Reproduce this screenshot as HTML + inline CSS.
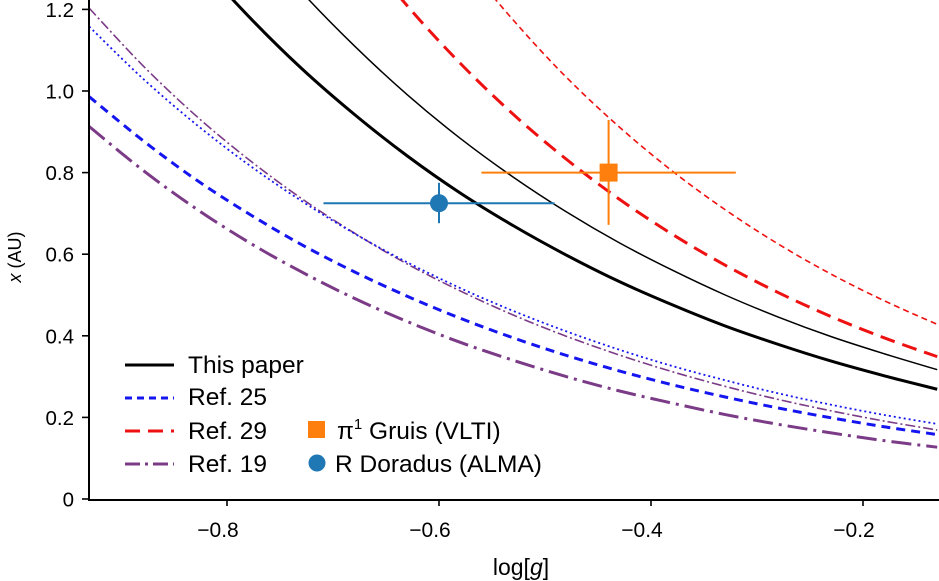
<!DOCTYPE html>
<html><head><meta charset="utf-8"><style>
html,body{margin:0;padding:0;background:#fff;}
svg{display:block;font-family:"Liberation Sans",Arial,sans-serif;}
</style></head><body>
<svg id="chart" width="939" height="581" viewBox="0 0 939 581">
<defs><clipPath id="plotclip"><rect x="89" y="0" width="850" height="500"/></clipPath></defs>
<g id="curves" clip-path="url(#plotclip)"></g>
<g id="points"></g>
<g id="axes"></g>
<g id="legend"></g>
</svg>
<script>
const logg = [-0.93,-0.88,-0.83,-0.78,-0.73,-0.68,-0.63,-0.58,-0.53,-0.48,-0.43,-0.38,-0.33,-0.28,-0.23,-0.18,-0.13];
const thisPaperA = [1.667,1.487,1.327,1.184,1.056,0.943,0.841,0.750,0.670,0.598,0.533,0.476,0.424,0.379,0.338,0.302,0.269];
const thisPaperB = [1.964,1.752,1.563,1.395,1.244,1.111,0.991,0.884,0.789,0.704,0.628,0.561,0.500,0.446,0.398,0.356,0.317];
const ref29A = [2.549,2.251,1.988,1.756,1.550,1.369,1.209,1.068,0.943,0.833,0.735,0.649,0.573,0.506,0.447,0.395,0.349];
const ref29B = [3.214,2.833,2.498,2.202,1.942,1.712,1.510,1.331,1.174,1.034,0.912,0.804,0.709,0.625,0.551,0.486,0.428];
const ref25A = [0.986,0.880,0.784,0.700,0.624,0.557,0.497,0.443,0.395,0.352,0.314,0.280,0.250,0.223,0.199,0.177,0.158];
const ref25B = [1.158,1.032,0.920,0.820,0.731,0.651,0.580,0.517,0.461,0.411,0.366,0.326,0.291,0.259,0.231,0.206,0.184];
const ref19B = [1.203,1.064,0.941,0.833,0.737,0.652,0.576,0.510,0.451,0.399,0.353,0.312,0.276,0.244,0.216,0.191,0.169];
const ref19A = [0.913,0.807,0.713,0.630,0.557,0.492,0.435,0.384,0.340,0.300,0.265,0.235,0.207,0.183,0.162,0.143,0.127];
const xTicks = [-0.8,-0.6,-0.4,-0.2];
const xTickLabels = ["\u22120.8","\u22120.6","\u22120.4","\u22120.2"];
const yTicks = [0,0.2,0.4,0.6,0.8,1.0,1.2];
const yTickLabels = ["0","0.2","0.4","0.6","0.8","1.0","1.2"];
const gruis = {g:-0.44, x:0.80, gLo:-0.56, gHi:-0.32, xLo:0.672, xHi:0.929};
const rdor = {g:-0.60, x:0.725, gLo:-0.709, gHi:-0.491, xLo:0.676, xHi:0.775};

const NS="http://www.w3.org/2000/svg";
const X0=89, X1=939, Y0=499;
function sx(v){return 439+(v+0.6)*1060;}
function sy(v){return Y0-v*408;}
function mk(tag,attrs,parent){const e=document.createElementNS(NS,tag);for(const k in attrs)e.setAttribute(k,attrs[k]);parent.appendChild(e);return e;}
function pathFor(xs,ys){
  const p=xs.map((x,i)=>[sx(x),sy(ys[i])]);
  let d="M"+p[0][0].toFixed(2)+","+p[0][1].toFixed(2);
  for(let i=0;i<p.length-1;i++){
    const a=p[Math.max(i-1,0)],b=p[i],c=p[i+1],e=p[Math.min(i+2,p.length-1)];
    const c1=[b[0]+(c[0]-a[0])/6,b[1]+(c[1]-a[1])/6],c2=[c[0]-(e[0]-b[0])/6,c[1]-(e[1]-b[1])/6];
    d+=" C"+c1.map(v=>v.toFixed(2))+" "+c2.map(v=>v.toFixed(2))+" "+c.map(v=>v.toFixed(2));
  }
  return d;
}
const curves=document.getElementById('curves');
const series=[
 [ref19A,'#7b3b87',3,'20,6,3,6','ref19-thick-line'],
 [ref19B,'#7b3b87',1.6,'10,3,2,3','ref19-thin-line'],
 [ref25A,'#1515f0',3,'9,6','ref25-thick-line'],
 [ref25B,'#1515f0',1.8,'2,3','ref25-thin-line'],
 [ref29A,'#ee1111',3,'15,8','ref29-thick-line'],
 [ref29B,'#ee1111',1.6,'6,4','ref29-thin-line'],
 [thisPaperA,'#000',3,'','this-paper-thick-line'],
 [thisPaperB,'#000',1.5,'','this-paper-thin-line']
];
series.forEach(s=>{
  const el=mk('path',{d:pathFor(logg,s[0]),fill:'none',stroke:s[1],'stroke-width':s[2],'stroke-dasharray':s[3]},curves);
  
  
});
const pts=document.getElementById('points');
function errPoint(p,color,square,name){
  const g=mk('g',{},pts);
  
  
  mk('line',{x1:sx(p.gLo),x2:sx(p.gHi),y1:sy(p.x),y2:sy(p.x),stroke:color,'stroke-width':2},g);
  mk('line',{x1:sx(p.g),x2:sx(p.g),y1:sy(p.xLo),y2:sy(p.xHi),stroke:color,'stroke-width':2},g);
  if(square) mk('rect',{x:sx(p.g)-9,y:sy(p.x)-9,width:18,height:18,fill:color},g);
  else mk('circle',{cx:sx(p.g),cy:sy(p.x),r:9,fill:color},g);
}
errPoint(rdor,'#1f77b4',false,'r-doradus-point');
errPoint(gruis,'#ff7f0e',true,'pi1-gruis-point');

const ax=document.getElementById('axes');
mk('line',{x1:X0,x2:X0,y1:0,y2:Y0+1,stroke:'#000','stroke-width':2},ax);
mk('line',{x1:X0-1,x2:X1,y1:Y0+1,y2:Y0+1,stroke:'#000','stroke-width':2},ax);
xTicks.forEach((t,i)=>{
  mk('line',{x1:sx(t),x2:sx(t),y1:Y0,y2:Y0+7,stroke:'#000','stroke-width':1.6},ax);
  const tx=mk('text',{x:sx(t)-9,y:537,'text-anchor':'middle','font-size':21},ax);
  tx.textContent=xTickLabels[i];
  
  
});
yTicks.forEach((t,i)=>{
  mk('line',{x1:X0-7,x2:X0,y1:sy(t),y2:sy(t),stroke:'#000','stroke-width':1.6},ax);
  const tx=mk('text',{x:74,y:sy(t)+7.5,'text-anchor':'end','font-size':20.5},ax);
  tx.textContent=yTickLabels[i];
  
  
});
</script>
<script>
(function(){
const NS="http://www.w3.org/2000/svg";
const ax=document.getElementById('axes');
const xl=document.createElementNS(NS,'text');
xl.setAttribute('x','521');xl.setAttribute('y','575');xl.setAttribute('text-anchor','middle');xl.setAttribute('font-size','23');
xl.innerHTML='log[<tspan font-style="italic">g</tspan>]';


ax.appendChild(xl);
const yl=document.createElementNS(NS,'text');
yl.setAttribute('transform','translate(21,257) rotate(-90)');yl.setAttribute('text-anchor','middle');yl.setAttribute('font-size','18');
yl.innerHTML='<tspan font-style="italic">x</tspan> (AU)';


ax.appendChild(yl);
const lg=document.getElementById('legend');
const items=[
 [365,373,'#000',3,'','This paper','legend-this-paper'],
 [398,405,'#1515f0',3,'7,5','Ref. 25','legend-ref25'],
 [431,439,'#ee1111',3,'15,8','Ref. 29','legend-ref29'],
 [464,472,'#7b3b87',3,'15,5,3,5','Ref. 19','legend-ref19']
];
items.forEach(it=>{
  const g=document.createElementNS(NS,'g');
  
  
  g.innerHTML='<line x1="125" x2="174" y1="'+it[0]+'" y2="'+it[0]+'" stroke="'+it[2]+'" stroke-width="'+it[3]+'" stroke-dasharray="'+it[4]+'"/><text x="188" y="'+it[1]+'" font-size="24.5">'+it[5]+'</text>';
  lg.appendChild(g);
});
const g1=document.createElementNS(NS,'g');


g1.innerHTML='<rect x="308" y="421" width="17" height="17" fill="#ff7f0e"/><text x="337" y="439" font-size="24.5">\u03c0<tspan font-size="15" dy="-10">1</tspan><tspan dy="10"> Gruis (VLTI)</tspan></text>';
lg.appendChild(g1);
const g2=document.createElementNS(NS,'g');


g2.innerHTML='<circle cx="317" cy="463" r="8.5" fill="#1f77b4"/><text x="335" y="472" font-size="24.5">R Doradus (ALMA)</text>';
lg.appendChild(g2);
})();
</script>
</body></html>
